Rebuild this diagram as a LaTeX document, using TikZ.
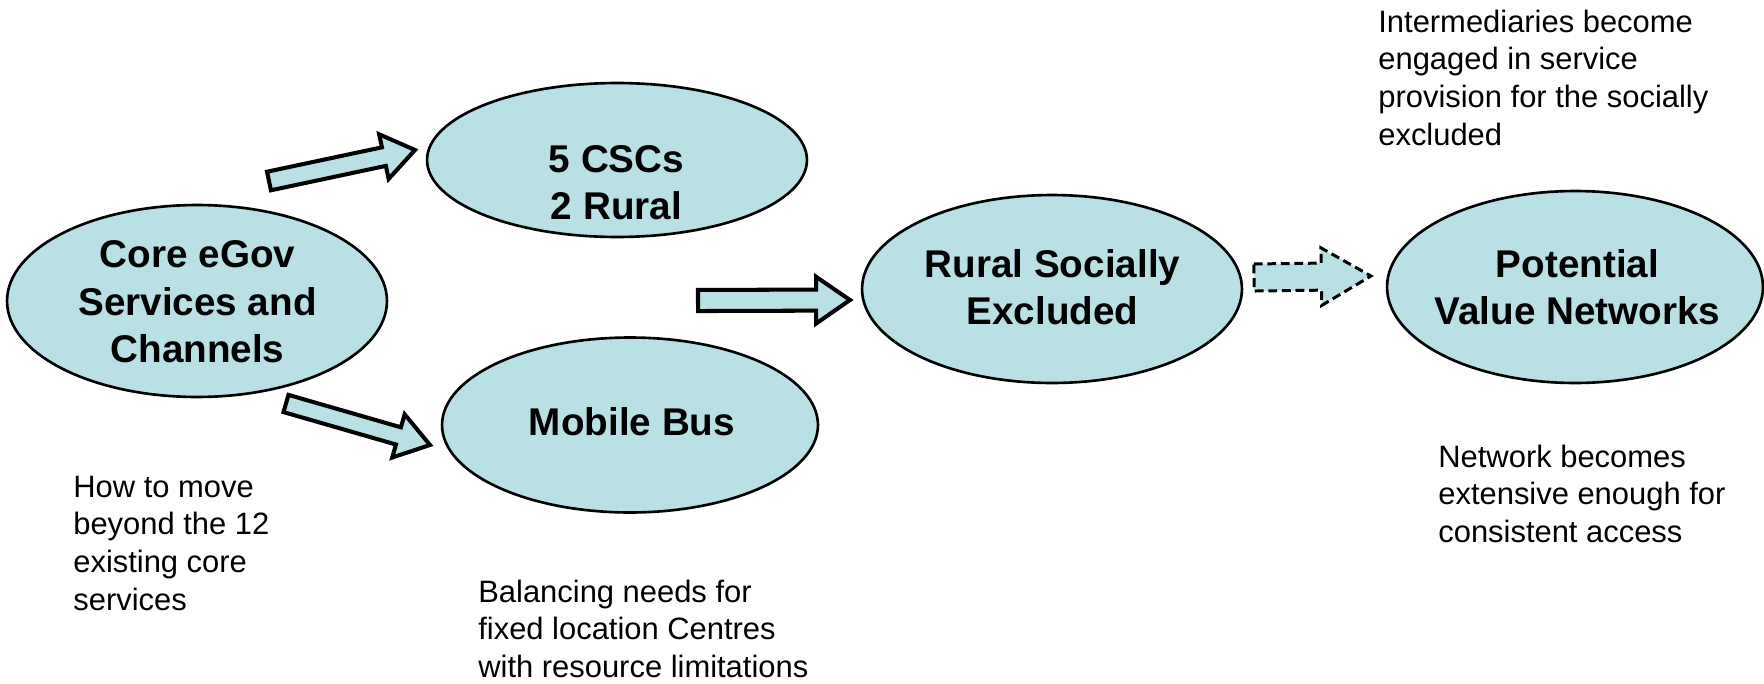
\documentclass[tikz,border=0pt]{standalone}
\usepackage{fontspec}
\setmainfont{Liberation Sans}
\usetikzlibrary{shapes.geometric,calc}

\definecolor{bubblefill}{HTML}{B9E0E5}

% block arrow: tail-middle #2, tip #3, shaft half-width #4, head half-width #5, head length #6
\newcommand{\blockarrow}[6][]{%
  \draw[blockstroke,#1]
    ($(#2)!#4!90:(#3)$) --
    ($($(#3)!#6!(#2)$)!#4!-90:(#2)$) --
    ($($(#3)!#6!(#2)$)!#5!-90:(#2)$) --
    (#3) --
    ($($(#3)!#6!(#2)$)!#5!90:(#2)$) --
    ($($(#3)!#6!(#2)$)!#4!90:(#2)$) --
    ($(#2)!#4!-90:(#3)$) -- cycle;}

\tikzset{
  bubble/.style={ellipse, draw=black, line width=1.5pt, fill=bubblefill, inner sep=0pt},
  bigtxt/.style={anchor=north, align=center, inner sep=0pt,
    font=\fontsize{22}{27.2}\selectfont\bfseries},
  note/.style={anchor=north west, align=left, inner sep=0pt,
    font=\fontsize{17.6}{21.5}\selectfont},
  blockstroke/.style={draw=black, fill=bubblefill, line width=2.3pt, line join=miter},
}

\begin{document}
\begin{tikzpicture}[x=0.02cm, y=-0.02cm]
  \useasboundingbox (0,0) rectangle (1764,683);

  % ellipses
  \node[bubble, minimum width=7.6cm, minimum height=3.84cm] (core) at (197,301) {};
  \node[bubble, minimum width=7.6cm, minimum height=3.08cm] (csc) at (617,160) {};
  \node[bubble, minimum width=7.52cm, minimum height=3.5cm] (bus) at (630,425) {};
  \node[bubble, minimum width=7.6cm, minimum height=3.76cm] (rural) at (1052,289) {};
  \node[bubble, minimum width=7.52cm, minimum height=3.84cm] (pvn) at (1575,287) {};

  % ellipse labels
  \node[bigtxt] (coret) at (197.5,233.4) {\strut Core eGov\\Services and\\Channels};
  \node[bigtxt] (csct) at (616.5,138.4) {\strut 5 CSCs\\2 Rural};
  \node[bigtxt] (bust) at (632,402) {\strut Mobile Bus};
  \node[bigtxt] (ruralt) at (1052.5,243.4) {\strut Rural Socially\\Excluded};
  \node[bigtxt] (pvnt) at (1577.5,243.4) {\strut Potential\\Value Networks};

  % notes
  \node[note] (n1) at (73,470.4) {\strut How to move\\beyond the 12\\existing core\\services};
  \node[note] (n2) at (478,575.4) {\strut Balancing needs for\\fixed location Centres\\with resource limitations};
  \node[note] (n3) at (1378,5.4) {\strut Intermediaries become\\engaged in service\\provision for the socially\\excluded};
  \node[note] (n4) at (1438,440.4) {\strut Network becomes\\extensive enough for\\consistent access};

  % arrow end points
  \coordinate (a1t) at (269,181);   \coordinate (a1h) at (415,150);
  \coordinate (a2t) at (286,403.5); \coordinate (a2h) at (430,445);
  \coordinate (a3t) at (698,300.5); \coordinate (a3h) at (850,300);
  \coordinate (a4t) at (1254,277.5);\coordinate (a4h) at (1371,276);

  \blockarrow{a1t}{a1h}{5.4pt}{13pt}{18.1pt}
  \blockarrow{a2t}{a2h}{5.1pt}{12.8pt}{18.7pt}
  \blockarrow{a3t}{a3h}{6pt}{13.3pt}{19.3pt}
  \blockarrow[line width=1.7pt, dash pattern=on 5pt off 2.7pt]{a4t}{a4h}{7.7pt}{16.4pt}{28.3pt}
\end{tikzpicture}
\end{document}
